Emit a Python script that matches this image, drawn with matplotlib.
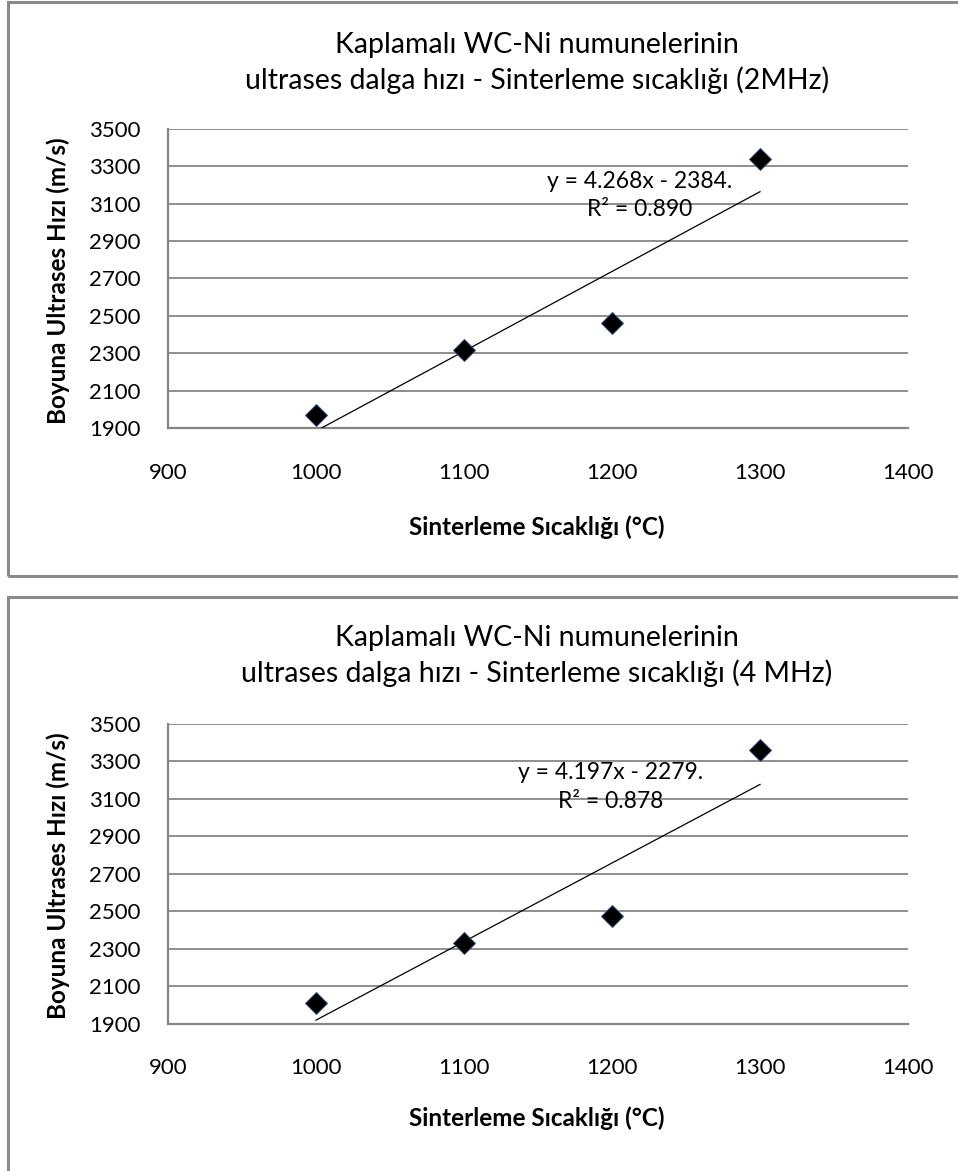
import numpy as np
import matplotlib
matplotlib.use("Agg")
import matplotlib.pyplot as plt
from matplotlib.patches import Rectangle

plt.rcParams['font.family'] = ['Lato', 'DejaVu Sans']

# Sintering temperatures (°C)
temps = [1000, 1100, 1200, 1300]

# Longitudinal ultrasonic velocity (m/s) at 2 MHz and 4 MHz
vel_2mhz = [1970, 2315, 2460, 3338]
vel_4mhz = [2010, 2330, 2475, 3362]

# Linear trendline coefficients (slope, intercept) as printed on the charts
fit_2mhz = (4.268, -2384.0)
fit_4mhz = (4.197, -2279.0)
eq_2mhz = "y = 4.268x - 2384.\nR² = 0.890"
eq_4mhz = "y = 4.197x - 2279.\nR² = 0.878"

titles = [
    "Kaplamalı WC-Ni numunelerinin\nultrases dalga hızı - Sinterleme sıcaklığı (2MHz)",
    "Kaplamalı WC-Ni numunelerinin\nultrases dalga hızı - Sinterleme sıcaklığı (4 MHz)",
]
xlabel = "Sinterleme Sıcaklığı (°C)"
ylabel = "Boyuna Ultrases Hızı (m/s)"

x_ticks = [900, 1000, 1100, 1200, 1300, 1400]
y_ticks = [1900, 2100, 2300, 2500, 2700, 2900, 3100, 3300, 3500]

W, H = 958, 1171
fig = plt.figure(figsize=(W / 100, H / 100), dpi=100)
fig.patch.set_facecolor("white")

GRID = "#868686"
FRAME = "#8a8a8a"


def fx(px):
    return px / W


def fy(py):
    return 1 - py / H


# Chart frames (both run off the right edge; the lower one off the bottom)
fig.add_artist(Rectangle((fx(8), fy(576)), fx(980 - 8), fy(2) - fy(576),
                         transform=fig.transFigure, fill=False,
                         edgecolor=FRAME, linewidth=2.2))
fig.add_artist(Rectangle((fx(8), fy(1200)), fx(980 - 8), fy(597) - fy(1200),
                         transform=fig.transFigure, fill=False,
                         edgecolor=FRAME, linewidth=2.2))

panels = [
    dict(top=129, bottom=428, vel=vel_2mhz, fit=fit_2mhz, eq=eq_2mhz,
         eq_pos=(1219, 3145), title=titles[0], title_y=63, xlab_y=527),
    dict(top=724, bottom=1023.5, vel=vel_4mhz, fit=fit_4mhz, eq=eq_4mhz,
         eq_pos=(1199, 3163), title=titles[1], title_y=656, xlab_y=1118),
]

left, right = 168, 908
for p in panels:
    ax = fig.add_axes([fx(left), fy(p["bottom"]), fx(right - left),
                       fy(p["top"]) - fy(p["bottom"])])
    ax.set_xlim(900, 1400)
    ax.set_ylim(1900, 3500)
    ax.set_xticks(x_ticks)
    ax.set_yticks(y_ticks)
    ax.tick_params(length=0, labelsize=16, colors="black")
    ax.tick_params(axis="y", pad=20)
    ax.tick_params(axis="x", pad=25)
    for s in ("top", "right"):
        ax.spines[s].set_visible(False)
    for s in ("left", "bottom"):
        ax.spines[s].set_color(GRID)
        ax.spines[s].set_linewidth(1.6)
    ax.yaxis.grid(True, color=GRID, linewidth=1.3)
    ax.set_axisbelow(True)

    # trendline over the data range, from the printed equation
    slope, intercept = p["fit"]
    xs = np.array([temps[0], temps[-1]], dtype=float)
    ax.plot(xs, slope * xs + intercept, color="black", linewidth=0.9,
            clip_on=True, zorder=3)

    ax.plot(temps, p["vel"], linestyle="none", marker="D", markersize=11.5,
            markerfacecolor="black", markeredgecolor="#2b4f80",
            markeredgewidth=0.7, zorder=4)

    ax.text(p["eq_pos"][0], p["eq_pos"][1], p["eq"], ha="center",
            va="center", fontsize=16.5, linespacing=1.45, zorder=5)

    mid_y = (p["top"] + p["bottom"]) / 2
    fig.text(fx(537), fy(p["title_y"]), p["title"], ha="center",
             va="center", fontsize=20.5, linespacing=1.35)
    fig.text(fx(537), fy(p["xlab_y"]), xlabel, ha="center", va="center",
             fontsize=17.5, fontweight="bold")
    fig.text(fx(58), fy(mid_y + 2), ylabel, ha="center", va="center",
             rotation=90, fontsize=17.5, fontweight="bold")

fig.savefig("out.png", dpi=100, facecolor="white")
